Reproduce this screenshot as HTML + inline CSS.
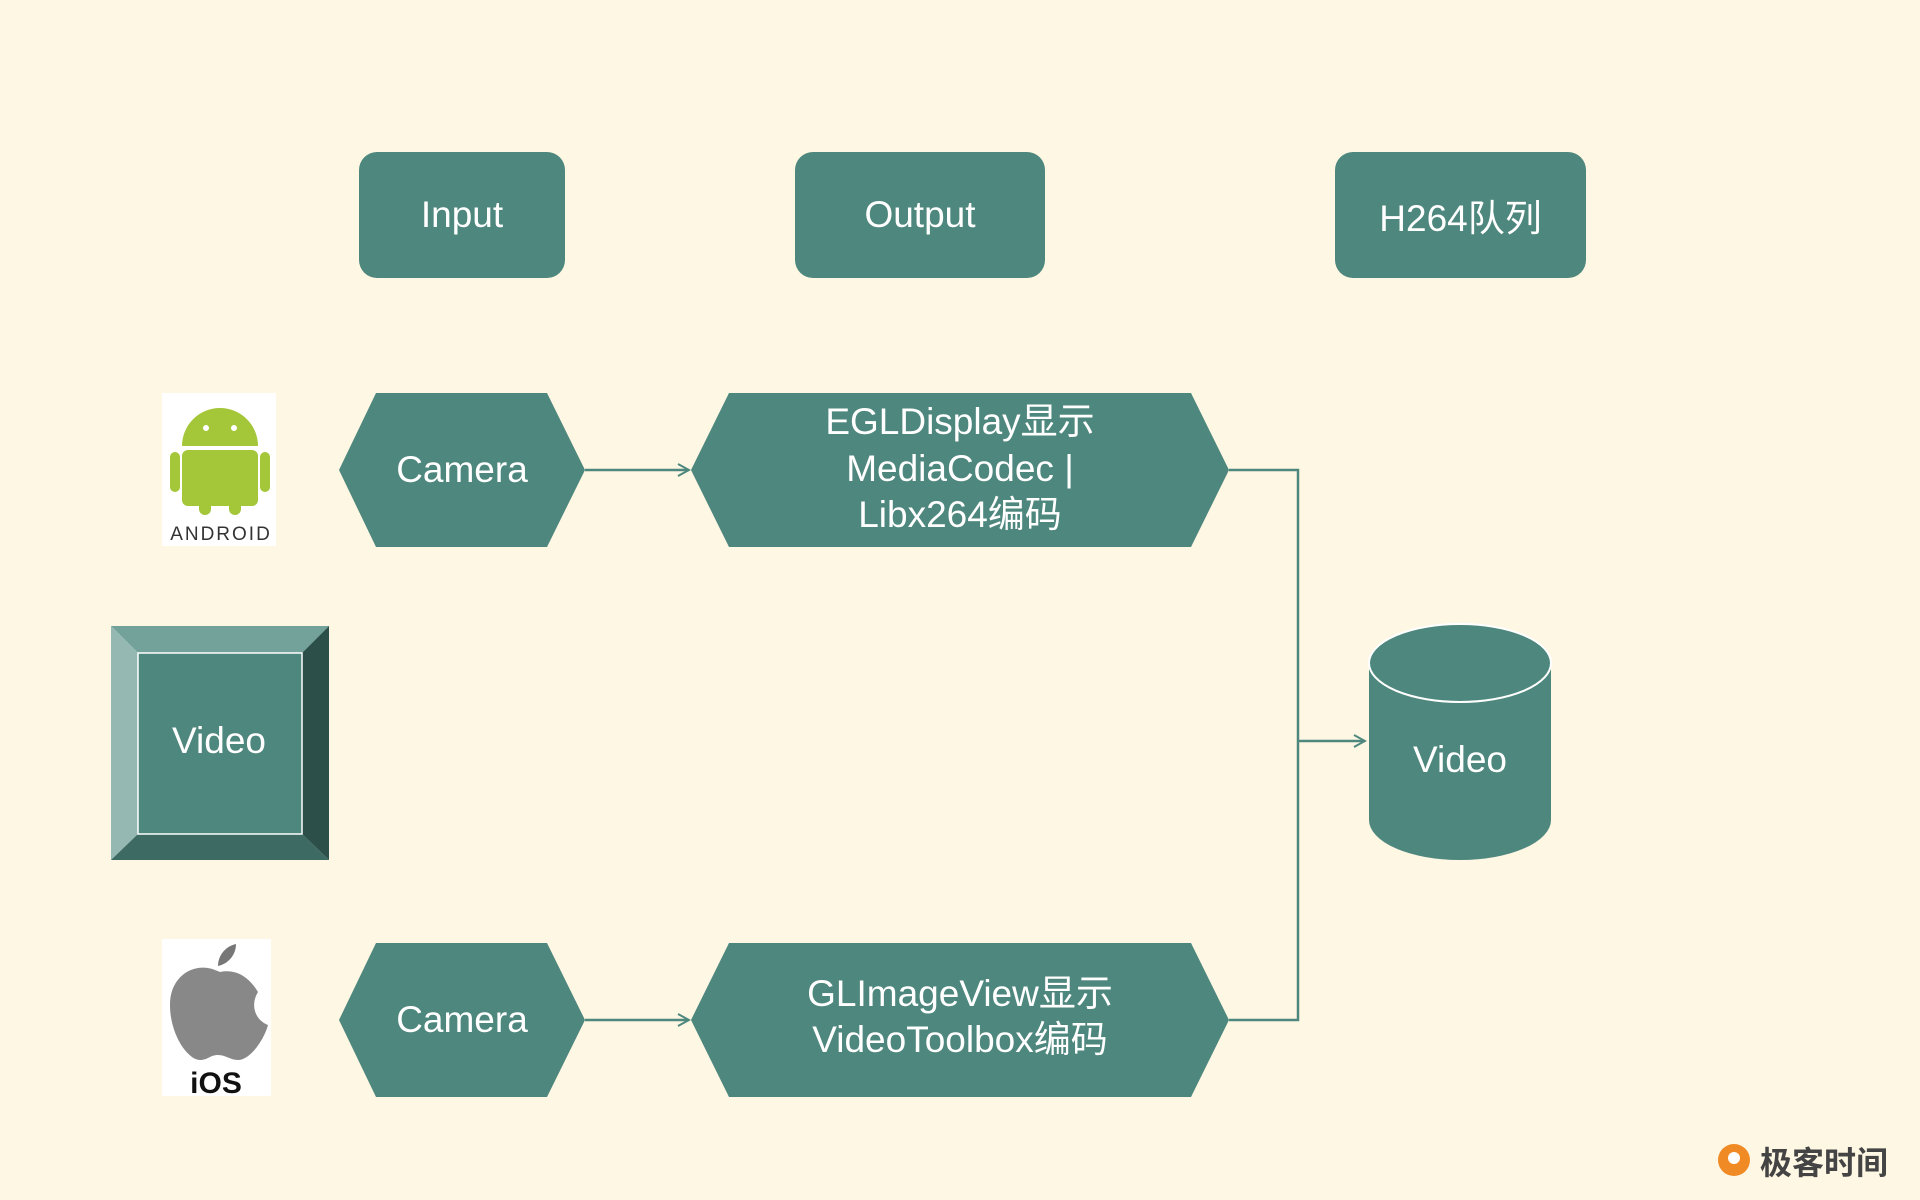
<!DOCTYPE html>
<html><head><meta charset="utf-8"><style>
html,body{margin:0;padding:0;background:#fef7e4;}
body{width:1920px;height:1200px;position:relative;overflow:hidden;font-family:"Liberation Sans","Noto Sans CJK SC",sans-serif;}
.box{position:absolute;background:#4e877d;border-radius:18px;color:#fff;font-size:37px;display:flex;align-items:center;justify-content:center;}
</style></head><body>
<div class="box" style="left:359px;top:152px;width:206px;height:126px">Input</div>
<div class="box" style="left:795px;top:152px;width:250px;height:126px">Output</div>
<div class="box" style="left:1335px;top:152px;width:251px;height:126px">H264队列</div>
<svg width="1920" height="1200" style="position:absolute;left:0;top:0" font-family="Liberation Sans, Noto Sans CJK SC, sans-serif">
<defs><marker id="a" markerWidth="14" markerHeight="14" refX="12" refY="7" orient="auto" markerUnits="userSpaceOnUse"><path d="M1,1 L12,7 L1,13" fill="none" stroke="#4e877d" stroke-width="2"/></marker></defs>
<g fill="#4e877d">
<polygon points="339,470 376,393 547,393 585,470 547,547 376,547"/>
<polygon points="691,470 729,393 1191,393 1229,470 1191,547 729,547"/>
<polygon points="339,1020 376,943 547,943 585,1020 547,1097 376,1097"/>
<polygon points="691,1020 729,943 1191,943 1229,1020 1191,1097 729,1097"/>
</g>
<g stroke="#4e877d" stroke-width="2.5" fill="none">
<line x1="585" y1="470" x2="689" y2="470" marker-end="url(#a)"/>
<line x1="585" y1="1020" x2="689" y2="1020" marker-end="url(#a)"/>
<polyline points="1229,470 1298,470 1298,1020 1229,1020"/>
<line x1="1298" y1="741" x2="1365" y2="741" marker-end="url(#a)"/>
</g>
<!-- cylinder -->
<path d="M1369,663 L1369,820 A91,40 0 0 0 1551,820 L1551,663 Z" fill="#4e877d"/>
<ellipse cx="1460" cy="663" rx="91" ry="39" fill="#4e877d" stroke="#fff" stroke-width="2"/>
<!-- bevel -->
<polygon points="111,626 329,626 302,653 138,653" fill="#73a29b"/>
<polygon points="111,626 138,653 138,834 111,860" fill="#95b8b2"/>
<polygon points="329,626 329,860 302,834 302,653" fill="#2c4f49"/>
<polygon points="111,860 138,834 302,834 329,860" fill="#3d6a62"/>
<rect x="138" y="653" width="164" height="181" fill="#4e877d" stroke="#fff" stroke-width="1.5"/>
<g fill="#fff" font-size="37" text-anchor="middle">
<text x="462" y="482">Camera</text>
<text x="462" y="1032">Camera</text>
<text x="960" y="434">EGLDisplay显示</text>
<text x="960" y="481">MediaCodec |</text>
<text x="960" y="527">Libx264编码</text>
<text x="960" y="1006">GLImageView显示</text>
<text x="960" y="1052">VideoToolbox编码</text>
<text x="219" y="753">Video</text>
<text x="1460" y="772">Video</text>
</g>
<!-- android -->
<rect x="162" y="393" width="114" height="153" fill="#fff"/>
<g fill="#a4c639">
<path d="M182,446 A38,38 0 0 1 258,446 Z"/>
<rect x="182" y="450" width="76" height="56" rx="6"/>
<rect x="170" y="452" width="10" height="40" rx="5"/>
<rect x="260" y="452" width="10" height="40" rx="5"/>
<rect x="199" y="495" width="12" height="20" rx="6"/>
<rect x="229" y="495" width="12" height="20" rx="6"/>
</g>
<circle cx="206" cy="428" r="3" fill="#fff"/><circle cx="234" cy="428" r="3" fill="#fff"/>
<text x="221" y="540" font-size="19" text-anchor="middle" fill="#333" letter-spacing="2">ANDROID</text>
<!-- ios -->
<rect x="162" y="939" width="109" height="157" fill="#fff"/>
<path d="M215,970 C195,962 170,975 170,1005 C170,1035 188,1060 200,1060 C208,1060 210,1055 218,1055 C226,1055 230,1060 238,1060 C250,1060 264,1040 268,1025 C255,1020 250,1005 258,992 C252,982 240,968 220,972 Z" fill="#888"/>
<path d="M218,966 C218,955 226,946 236,944 C236,955 228,964 218,966 Z" fill="#777"/>
<text x="216" y="1093" font-size="30" text-anchor="middle" fill="#111" font-weight="bold">iOS</text>
<!-- logo -->
<circle cx="1734" cy="1160" r="16" fill="#f08a24"/><circle cx="1734" cy="1158" r="6" fill="#fff"/>
<text x="1760" y="1174" font-size="32" fill="#444" font-weight="bold">极客时间</text>
</svg>
</body></html>
